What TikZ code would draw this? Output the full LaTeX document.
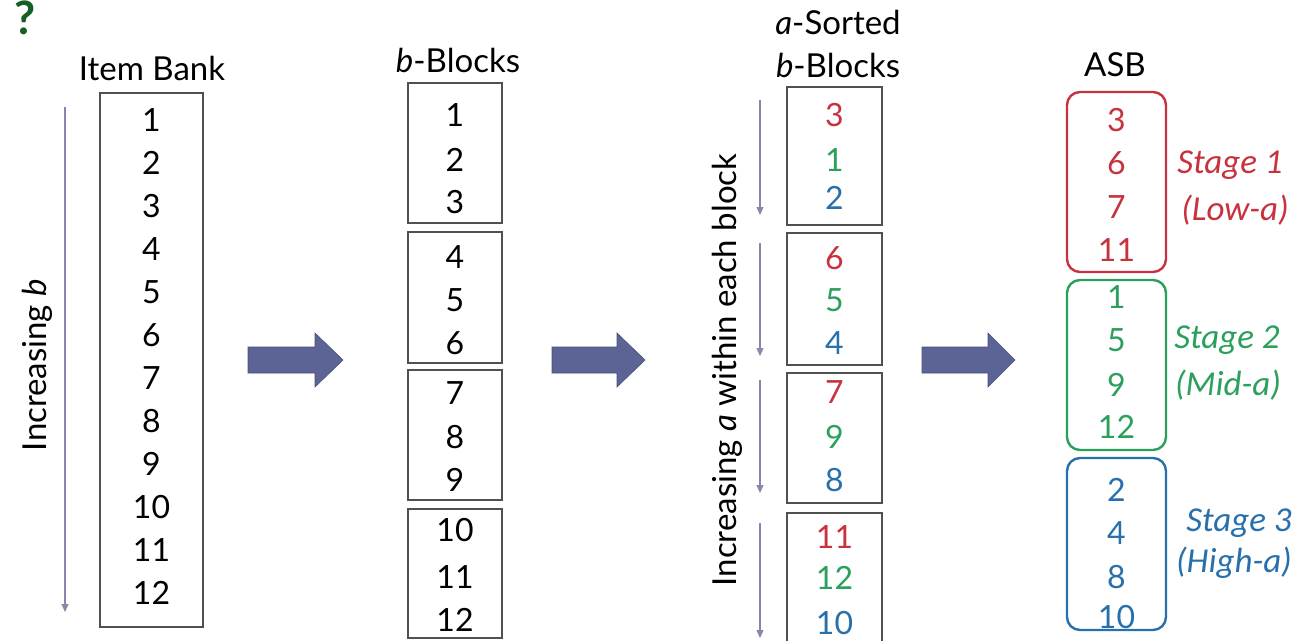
\documentclass[tikz,border=0pt]{standalone}
\usepackage{fontspec}
\setmainfont{Lato}
\newfontfamily\stagefont{Carlito}
\usetikzlibrary{arrows.meta}
\definecolor{boxgray}{RGB}{80,80,80}
\definecolor{thinarr}{RGB}{135,135,172}
\definecolor{bigarr}{RGB}{92,100,150}
\definecolor{cred}{RGB}{200,50,62}
\definecolor{cgreen}{RGB}{42,160,92}
\definecolor{cblue}{RGB}{40,112,172}
\definecolor{qgreen}{RGB}{20,95,35}
\tikzset{
  plainbox/.style={draw=boxgray,line width=2pt},
  stagebox/.style={line width=2.4pt,rounded corners=13pt},
  digit/.style={font=\fontsize{32}{32}\selectfont,inner sep=0pt,anchor=center},
  heading/.style={font=\fontsize{33}{33}\selectfont,inner sep=0pt,anchor=center},
  stagelbl/.style={font=\stagefont\itshape\fontsize{35}{35}\selectfont,inner sep=0pt,anchor=center},
  thinarrow/.style={draw=thinarr,line width=1.1pt,-{Triangle[width=7pt,length=8pt]}},
  bigarrow/.style={fill=bigarr,draw=bigarr!80!black,line width=0.6pt},
}
\begin{document}
\begin{tikzpicture}[x=1pt,y=-1pt]
\useasboundingbox (0,0) rectangle (1316,640);
\clip (0,0) rectangle (1316,640);
\fill[white] (0,0) rectangle (1316,640);

% green question mark
\node[font=\bfseries\fontsize{46}{46}\selectfont,text=qgreen,inner sep=0pt,anchor=north] (q) at (25,1) {?};

% ---------- Item Bank ----------
\node[heading] (ibl) at (152,68) {Item Bank};
\node[plainbox,minimum width=103pt,minimum height=534pt,inner sep=0pt] (bank) at (151.5,360) {};
\foreach \i in {1,...,12}{
  \node[digit] (ib\i) at (151.5,{120+43*(\i-1)}) {\i};
}
\coordinate (ibs) at (65,107);
\coordinate (ibe) at (65,612);
\draw[thinarrow] (ibs) -- (ibe);
\node[heading,rotate=90] (incb) at (37,365) {Increasing \textit{b}};

% arrow 1
\fill[bigarrow] (248,347) -- (315,347) -- (315,333) -- (343,360) -- (315,387) -- (315,373) -- (248,373) -- cycle;

% ---------- b-Blocks ----------
\node[heading] (bbl) at (458,60) {\textit{b}-Blocks};
\node[plainbox,minimum width=94pt,minimum height=140pt,inner sep=0pt] (bb1) at (455,153) {};
\node[plainbox,minimum width=94pt,minimum height=131pt,inner sep=0pt] (bb2) at (455,297.5) {};
\node[plainbox,minimum width=94pt,minimum height=130pt,inner sep=0pt] (bb3) at (455,435) {};
\node[plainbox,minimum width=94pt,minimum height=129pt,inner sep=0pt] (bb4) at (455,573.5) {};
\foreach \n/\y in {1/115,2/160,3/202,4/257,5/300,6/343,7/393,8/437,9/480,10/530,11/577,12/620}{
  \node[digit] (bd\n) at (455,\y) {\n};
}

% arrow 2
\fill[bigarrow] (552,347) -- (617,347) -- (617,333) -- (645,360) -- (617,387) -- (617,373) -- (552,373) -- cycle;

% ---------- a-Sorted b-Blocks ----------
\node[heading] (asl1) at (838,22) {\textit{a}-Sorted};
\node[heading] (asl2) at (838,65) {\textit{b}-Blocks};
\node[plainbox,minimum width=95pt,minimum height=138pt,inner sep=0pt] (ab1) at (834.5,156) {};
\node[plainbox,minimum width=95pt,minimum height=132pt,inner sep=0pt] (ab2) at (834.5,299) {};
\node[plainbox,minimum width=95pt,minimum height=130pt,inner sep=0pt] (ab3) at (834.5,438) {};
\node[plainbox,minimum width=95pt,minimum height=134pt,inner sep=0pt] (ab4) at (834.5,580) {};
\foreach \n/\y/\c in {3/115/cred,1/160/cgreen,2/198/cblue,6/258/cred,5/300/cgreen,4/343/cblue,7/392/cred,9/437/cgreen,8/480/cblue,11/537/cred,12/578/cgreen,10/623/cblue}{
  \node[digit,text=\c] (ad\n) at (834.5,\y) {\n};
}
\foreach \k/\a/\b in {1/100/215,2/243/356,3/380/493,4/523/638}{
  \coordinate (as\k) at (760,\a);
  \coordinate (ae\k) at (760,\b);
  \draw[thinarrow] (as\k) -- (ae\k);
}
\node[heading,rotate=90] (inca) at (727,370) {Increasing \textit{a} within each block};

% arrow 3
\fill[bigarrow] (922,347) -- (988,347) -- (988,333) -- (1015,360) -- (988,387) -- (988,373) -- (922,373) -- cycle;

% ---------- ASB ----------
\node[heading] (asbl) at (1115,65) {ASB};
\node[stagebox,draw=cred,minimum width=99pt,minimum height=180pt,inner sep=0pt] (s1) at (1116.5,182) {};
\node[stagebox,draw=cgreen,minimum width=99pt,minimum height=170pt,inner sep=0pt] (s2) at (1116.5,365) {};
\node[stagebox,draw=cblue,minimum width=99pt,minimum height=172pt,inner sep=0pt] (s3) at (1116.5,544) {};
\foreach \n/\y/\c in {3/120/cred,6/163/cred,7/207/cred,11/250/cred,1/297/cgreen,5/340/cgreen,9/385/cgreen,12/427/cgreen,2/490/cblue,4/533/cblue,8/577/cblue,10/617/cblue}{
  \node[digit,text=\c] (sd\n) at (1116.5,\y) {\n};
}
\node[stagelbl,text=cred] (st1) at (1230,165) {Stage 1};
\node[stagelbl,text=cred] (lo1) at (1235,210) {(Low-\textit{a})};
\node[stagelbl,text=cgreen] (st2) at (1227,340) {Stage 2};
\node[stagelbl,text=cgreen] (lo2) at (1228,385) {(Mid-\textit{a})};
\node[stagelbl,text=cblue] (st3) at (1239,523) {Stage 3};
\node[stagelbl,text=cblue] (lo3) at (1234,563) {(High-\textit{a})};
\end{tikzpicture}
\end{document}
